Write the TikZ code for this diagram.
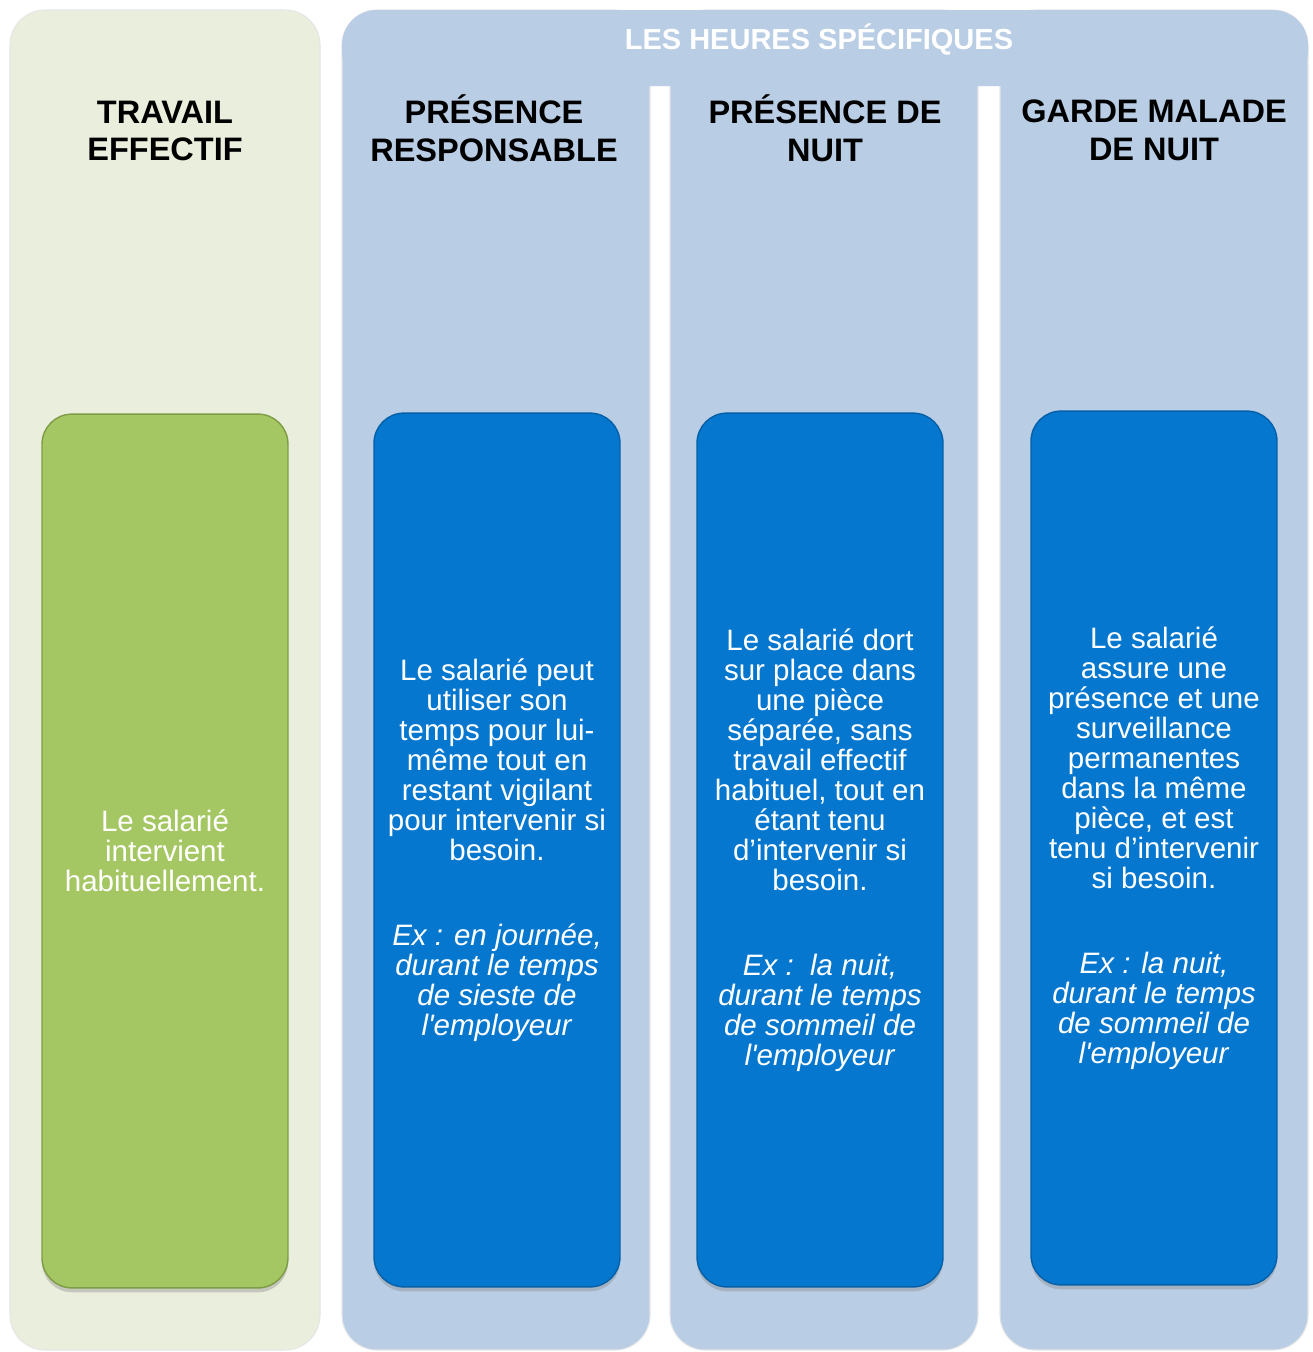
\documentclass[tikz,border=0pt]{standalone}
\usepackage{fontspec}
\setmainfont{Liberation Sans}
\usetikzlibrary{shadows}

\definecolor{panelgreen}{HTML}{EAEEDD}
\definecolor{panelblue}{HTML}{B9CDE5}
\definecolor{boxgreen}{HTML}{A5C763}
\definecolor{boxgreenline}{HTML}{7E9C45}
\definecolor{boxblue}{HTML}{0577CF}
\definecolor{boxblueline}{HTML}{0560A8}

\tikzset{
  panel/.style={rounded corners=0.7cm, draw=black!10, line width=0.6pt},
  heading/.style={align=center, text=black, font=\bfseries\fontsize{18.5}{21.5}\selectfont},
  title/.style={text=white, font=\bfseries\fontsize{16.5}{19}\selectfont},
  box/.style={rounded corners=0.6cm, minimum width=4.92cm, minimum height=17.48cm,
    align=center, text=white, line width=0.8pt, font=\fontsize{16.8}{17.1}\selectfont,
    drop shadow={shadow xshift=0pt, shadow yshift=-2.5pt, opacity=0.35}},
  greenbox/.style={box, fill=boxgreen, draw=boxgreenline},
  bluebox/.style={box, fill=boxblue, draw=boxblueline},
}

\begin{document}
\begin{tikzpicture}[x=0.02cm, y=-0.02cm]
    \useasboundingbox (0,0) rectangle (1312,1352);

    % background panels
    \fill[panel, fill=panelgreen] (10,10) rectangle (320,1350);
    \fill[panel, fill=panelblue] (342,10) rectangle (650,1350);
    \fill[panel, fill=panelblue] (670,10) rectangle (978,1350);
    \fill[panel, fill=panelblue] (1000,10) rectangle (1308,1350);
    \fill[panelblue, rounded corners=0.7cm] (342,10) rectangle (1308,86);

    \node[title] (specif) at (819,40) {LES HEURES SPÉCIFIQUES};

    % column headings
    \node[heading] (h1) at (165,131) {TRAVAIL\\EFFECTIF};
    \node[heading] (h2) at (494,128) {PRÉSENCE\\RESPONSABLE};
    \node[heading] (h3) at (825,128) {PRÉSENCE DE\\NUIT};
    \node[heading] (h4) at (1154,130) {GARDE MALADE\\DE NUIT};

    % boxes
    \node[greenbox] (travail) at (165,851) {Le salarié\\intervient\\habituellement.};

    \node[bluebox] (respons) at (497,850) {Le salarié peut\\utiliser son\\temps pour lui-\\même tout en\\restant vigilant\\pour intervenir si\\besoin.\\[31pt]
        \textit{Ex : en journée,}\\\textit{durant le temps}\\\textit{de sieste de}\\\textit{l\textquotesingle employeur}};

    \node[bluebox] (nuit) at (820,850) {Le salarié dort\\sur place dans\\une pièce\\séparée, sans\\travail effectif\\habituel, tout en\\étant tenu\\d’intervenir si\\besoin.\\[31pt]
        \textit{Ex :\ \ la nuit,}\\\textit{durant le temps}\\\textit{de sommeil de}\\\textit{l\textquotesingle employeur}};

    \node[bluebox] (garde) at (1154,848) {Le salarié\\assure une\\présence et une\\surveillance\\permanentes\\dans la même\\pièce, et est\\tenu d’intervenir\\si besoin.\\[31pt]
        \textit{Ex : la nuit,}\\\textit{durant le temps}\\\textit{de sommeil de}\\\textit{l\textquotesingle employeur}};

\end{tikzpicture}
\end{document}
